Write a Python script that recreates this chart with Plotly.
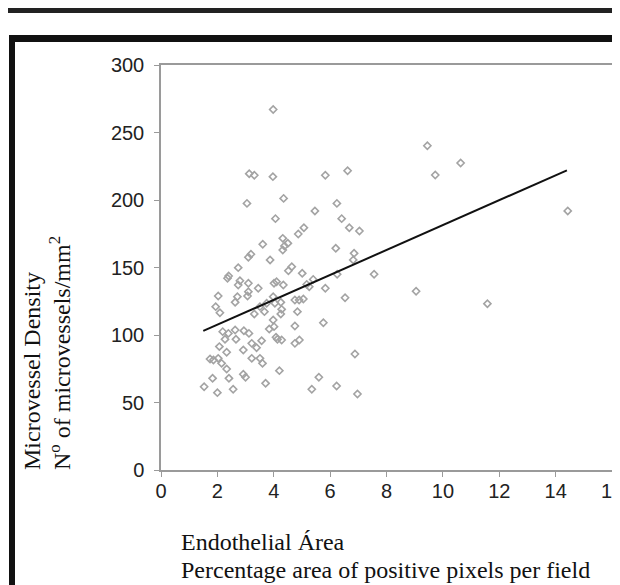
import plotly.graph_objects as go

# Data
endothelial_area = [
    3.98, 3.13, 3.31, 3.97, 5.83, 6.62, 3.05, 4.35, 6.24, 5.46, 4.06, 6.41, 5.07, 4.87,
    6.68, 7.04, 4.32, 3.61, 4.50, 4.38, 4.32, 6.20, 6.85, 3.19, 3.10, 3.87, 6.82,
    2.74, 2.40, 2.36, 2.80, 3.10, 2.74, 3.45, 4.10, 4.01, 4.34, 4.52, 4.64, 5.01, 5.17,
    5.26, 5.40, 5.83, 6.25, 7.56, 2.03, 3.10, 2.71, 3.07, 2.63, 1.94, 2.09, 3.98, 3.51,
    3.75, 4.04, 4.25, 3.31, 3.67, 4.28, 4.25, 4.75, 4.90, 5.05, 6.53, 4.84, 3.98, 3.84,
    4.01, 4.75, 5.76, 2.19, 2.39, 2.63, 2.66, 2.94, 3.12, 2.27, 2.07, 2.33, 3.22, 3.39,
    3.57, 4.08, 4.13, 4.28, 2.92, 4.75, 4.91, 1.74, 1.86, 2.03, 2.15, 2.33, 3.22, 3.51,
    3.60, 4.20, 2.92, 3.00, 1.83, 2.41, 1.53, 2.00, 2.56, 3.71, 5.35, 5.60, 6.23, 6.97,
    6.88, 9.45, 10.63, 9.73, 14.43, 9.05, 11.58,
]
microvessel_density = [
    267, 219.5, 218.3, 217.3, 218.3, 221.7, 197.5, 201.2, 197.5, 191.9, 186.2, 186.2, 179.5, 174.8,
    179.5, 177, 171.6, 167.2, 167.9, 165.9, 163, 164.2, 160.5, 159.8, 157.6, 155.6, 155.6,
    149.9, 143.7, 142, 140.2, 138.3, 137, 134.6, 139.5, 138.3, 137, 147.6, 150.6, 145.7, 137.5,
    135.8, 141.2, 134.6, 145, 145, 128.9, 132.1, 128.4, 128.9, 124.2, 121, 116.5, 128.4, 121,
    123.5, 123.5, 124.2, 115.6, 117.3, 119, 115.6, 125.9, 125.9, 126.7, 127.6, 117.3, 111.1, 104.4,
    106.2, 106.7, 109.1, 102.5, 101.2, 103.7, 96.8, 103.2, 101.2, 96.8, 91.4, 87.2, 93.8, 90.6,
    95.8, 98.3, 96.8, 96.3, 88.9, 93.8, 96.3, 82.2, 81.5, 82.7, 79, 74.8, 82.7, 82.7,
    79, 73.6, 70.9, 68.7, 67.9, 67.9, 61.7, 57.3, 59.8, 64.2, 59.8, 68.7, 62.2, 56.3,
    85.9, 240.2, 227.4, 218.5, 191.9, 132.4, 123.2,
]
trend_x = [1.5, 14.4]
trend_y = [103, 222]

x_ticks = [0, 2, 4, 6, 8, 10, 12, 14, 16]
y_ticks = [0, 50, 100, 150, 200, 250, 300]

x_title_1 = "Endothelial Área"
x_title_2 = "Percentage area of positive pixels per field"
y_title_1 = "Microvessel Density"
y_title_2 = "N<sup>o</sup> of microvessels/mm<sup>2</sup>"

# The page body adds an 8px offset; screen coordinates are converted below.
OFF = 8
W, H = 620, 585
L, T = 161 - OFF, 65 - OFF
PW, PH = 451, 405
R, B = W - L - PW, H - T - PH


def px(sx):
    return (sx - OFF - L) / PW


def py(sy):
    return 1 - (sy - OFF - T) / PH


fig = go.Figure()
fig.add_trace(go.Scatter(
    x=endothelial_area, y=microvessel_density, mode="markers",
    marker=dict(symbol="diamond-open", size=5.5, color="#a3a3a3",
                line=dict(width=1.6, color="#a3a3a3")),
    showlegend=False, hoverinfo="skip",
))
fig.add_trace(go.Scatter(
    x=trend_x, y=trend_y, mode="lines",
    line=dict(color="#111111", width=2), showlegend=False, hoverinfo="skip",
))

axis_common = dict(
    showgrid=False, zeroline=False, showline=True, linecolor="#9a9a9a", linewidth=1.5,
    mirror=True, ticks="outside", ticklen=5, tickcolor="#9a9a9a", tickwidth=1,
    tickfont=dict(family="Liberation Sans, Arial, sans-serif", size=20, color="#222222"),
    automargin=False, ticklabeloverflow="allow",
)
fig.update_xaxes(range=[0, 16], tickvals=x_ticks, ticklabelstandoff=-3, **axis_common)
fig.update_yaxes(range=[0, 300], tickvals=y_ticks, ticklabelstandoff=6, **axis_common)

serif = dict(family="Liberation Serif, Times New Roman, serif", size=24, color="#111111")
fig.add_annotation(text=x_title_1, xref="paper", yref="paper", x=px(179), y=py(542),
                   xanchor="left", yanchor="middle", showarrow=False, font=serif)
fig.add_annotation(text=x_title_2, xref="paper", yref="paper", x=px(179), y=py(570),
                   xanchor="left", yanchor="middle", showarrow=False, font=serif)
fig.add_annotation(text=y_title_1, xref="paper", yref="paper", x=px(32), y=py(472),
                   xanchor="center", yanchor="bottom", textangle=-90, showarrow=False, font=serif)
fig.add_annotation(text=y_title_2, xref="paper", yref="paper", x=px(60), y=py(472),
                   xanchor="center", yanchor="bottom", textangle=-90, showarrow=False, font=serif)

# Frame decorations
fig.add_shape(type="rect", xref="paper", yref="paper", x0=px(8), x1=px(640), y0=py(7), y1=py(13),
              fillcolor="#222222", line=dict(width=0), layer="above")
fig.add_shape(type="rect", xref="paper", yref="paper", x0=px(9), x1=px(640), y0=py(35), y1=py(42),
              fillcolor="#111111", line=dict(width=0), layer="above")
fig.add_shape(type="rect", xref="paper", yref="paper", x0=px(9), x1=px(15), y0=py(35), y1=py(620),
              fillcolor="#111111", line=dict(width=0), layer="above")

fig.update_layout(
    width=W, height=H, margin=dict(l=L, r=R, t=T, b=B),
    paper_bgcolor="white", plot_bgcolor="white",
)
fig.write_html("out.html")
